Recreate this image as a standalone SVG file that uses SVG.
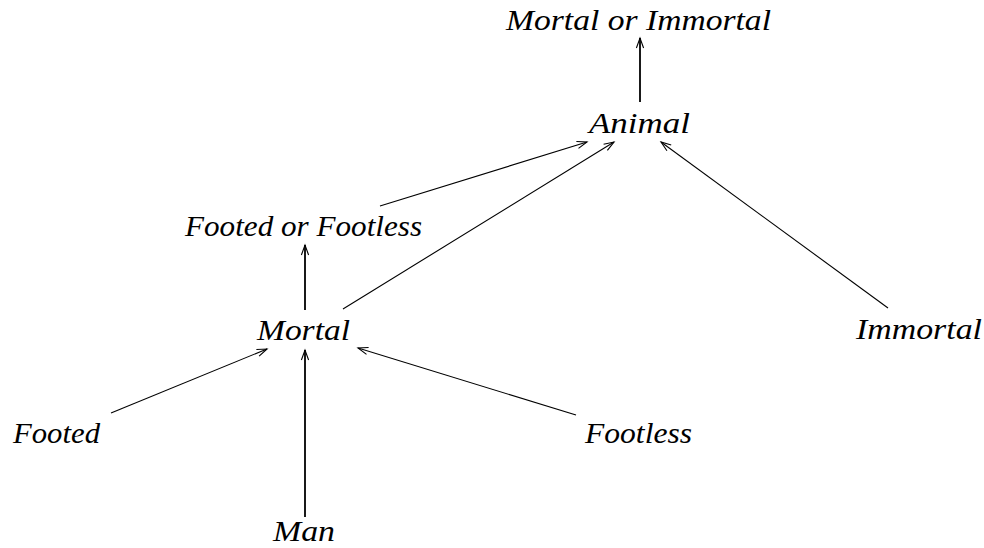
<svg xmlns="http://www.w3.org/2000/svg" width="984" height="548" viewBox="0 0 984 548">
<style>
  .lbl { font-family: "Liberation Serif", "Times New Roman", serif; font-style: italic; font-size: 30px; fill: #000; }
  .edge { stroke: #000; stroke-width: 1.1; fill: none; }
  .vert { stroke: #000; stroke-width: 1.8; fill: none; }
</style>
<defs>
  <marker id="arr" markerUnits="userSpaceOnUse" markerWidth="14" markerHeight="10" viewBox="-11 -5 12 10" refX="0" refY="0" orient="auto">
    <path d="M-10,-3.6 L0,0 L-10,3.6" fill="none" stroke="#000" stroke-width="1.1"/>
  </marker>
</defs>
<rect width="984" height="548" fill="#fff"/>
<g id="connectors">
  <line class="vert" x1="640" y1="102" x2="640" y2="38" marker-end="url(#arr)"/>
  <line class="edge" x1="380" y1="206" x2="587" y2="142" marker-end="url(#arr)"/>
  <line class="edge" x1="343" y1="309" x2="614" y2="142" marker-end="url(#arr)"/>
  <line class="edge" x1="888" y1="308" x2="661" y2="142" marker-end="url(#arr)"/>
  <line class="vert" x1="305" y1="310" x2="305" y2="245" marker-end="url(#arr)"/>
  <line class="edge" x1="111" y1="413" x2="267" y2="349" marker-end="url(#arr)"/>
  <line class="edge" x1="576" y1="415" x2="358" y2="348" marker-end="url(#arr)"/>
  <line class="vert" x1="305" y1="517" x2="305" y2="350" marker-end="url(#arr)"/>
</g>
<g id="node-mortal-or-immortal"><text class="lbl" x="506" y="30" textLength="265" lengthAdjust="spacingAndGlyphs">Mortal or Immortal</text></g>
<g id="node-animal"><text class="lbl" x="589" y="133" textLength="101" lengthAdjust="spacingAndGlyphs">Animal</text></g>
<g id="node-footed-or-footless"><text class="lbl" x="185" y="236" textLength="237" lengthAdjust="spacingAndGlyphs">Footed or Footless</text></g>
<g id="node-mortal"><text class="lbl" x="257" y="340" textLength="93" lengthAdjust="spacingAndGlyphs">Mortal</text></g>
<g id="node-immortal"><text class="lbl" x="856" y="339" textLength="126" lengthAdjust="spacingAndGlyphs">Immortal</text></g>
<g id="node-footed"><text class="lbl" x="13" y="443" textLength="87" lengthAdjust="spacingAndGlyphs">Footed</text></g>
<g id="node-footless"><text class="lbl" x="585" y="443" textLength="107" lengthAdjust="spacingAndGlyphs">Footless</text></g>
<g id="node-man"><text class="lbl" x="273" y="541" textLength="62" lengthAdjust="spacingAndGlyphs">Man</text></g>
</svg>
